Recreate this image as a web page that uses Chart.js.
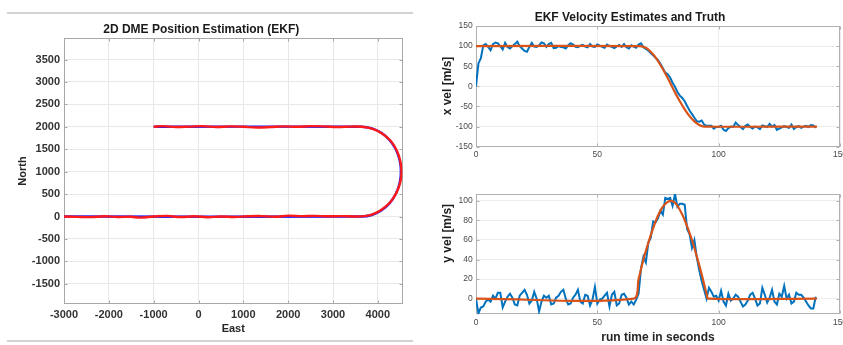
<!DOCTYPE html>
<html><head><meta charset="utf-8">
<script src="https://cdn.jsdelivr.net/npm/chart.js@4.4.1/dist/chart.umd.min.js"></script>
<style>
html,body{margin:0;padding:0;background:#fff;}
body{width:843px;height:345px;position:relative;overflow:hidden;}
.box{position:absolute;}
.rule{position:absolute;left:7px;width:406px;height:2px;background:#d2d2d2;}
</style></head><body>
<div class="rule" style="top:12px"></div>
<div class="rule" style="top:340px"></div>
<div class="box" style="left:0;top:0;width:420px;height:345px"><canvas id="c1" width="420" height="345"></canvas></div>
<div class="box" style="left:420px;top:0;width:423px;height:175px"><canvas id="c2" width="423" height="175"></canvas></div>
<div class="box" style="left:420px;top:175px;width:423px;height:170px"><canvas id="c3" width="423" height="170"></canvas></div>
<script>
// ---------- text ----------
const posTitle = '2D DME Position Estimation (EKF)';
const velTitle = 'EKF Velocity Estimates and Truth';
const eastLabel = 'East';
const northLabel = 'North';
const xVelLabel = 'x vel [m/s]';
const yVelLabel = 'y vel [m/s]';
const timeLabel = 'run time in seconds';

// ---------- position data ----------
const truthEast  = [-3000, 3640, 3866, 4078, 4259, 4398, 4485, 4515, 4485, 4398, 4259, 4078, 3866, 3640, -1000];
const truthNorth = [0, 0, 34, 134, 293, 500, 741, 1000, 1259, 1500, 1707, 1866, 1966, 2000, 2000];
const estEast  = [-3000,-2700,-2400,-2100,-1800,-1500,-1300,-1000,-700,-400,-100,200,500,800,1100,1400,1700,2000,2300,2600,2900,3200,3500,
                  3700,3880,4080,4270,4410,4500,4528,4498,4420,4285,4100,3885,3650,
                  3400,3100,2800,2500,2200,1900,1600,1300,1000,700,400,100,-200,-500,-800,-1000];
const estNorth = [0,-8,-12,5,-10,-5,-25,0,15,-12,5,-15,0,-10,5,10,-5,20,10,15,5,10,0,
                  8,48,152,312,522,762,1000,1248,1478,1688,1848,1952,2000,
                  2005,1995,2010,2015,2000,2010,1995,1985,2000,2010,1995,2015,2005,1995,2015,2000];
const eastTicks  = [-3000,-2000,-1000,0,1000,2000,3000,4000];
const northTicks = [-1500,-1000,-500,0,500,1000,1500,2000,2500,3000,3500];

// ---------- velocity data ----------
const timeSec = [0,1,2,3,4,5,6,7,8,9,10,11,12,13,14,15,16,17,18,19,20,21,22,23,24,25,26,27,28,29,30,31,32,33,34,35,36,37,38,39,40,
  41,42,43,44,45,46,47,48,49,50,51,52,53,54,55,56,57,58,59,60,61,62,63,64,65,66,67,68,69,70,71,72,73,74,75,76,77,78,79,80,
  81,82,83,84,85,86,87,88,89,90,91,92,93,94,95,96,97,98,99,100,101,102,103,104,105,106,107,108,109,110,111,112,113,114,115,116,117,118,119,120,
  121,122,123,124,125,126,127,128,129,130,131,132,133,134,135,136,137,138,139,140];
const xVelEst = [0,57,70,102,105,98,90,105,109,107,100,92,108,98,94,100,105,111,100,94,88,
  86,98,108,99,98,102,109,107,98,105,108,95,96,100,98,97,94,102,107,104,
  98,97,101,103,99,97,105,99,98,104,101,98,96,104,100,98,95,99,103,98,
  105,97,94,102,99,96,104,107,97,93,89,83,77,71,65,56,45,34,30,22,
  9,-1,-14,-23,-29,-37,-49,-60,-69,-78,-87,-88,-85,-95,-98,-98,-98,-105,-101,-101,
  -98,-108,-111,-104,-100,-101,-90,-96,-101,-106,-98,-95,-101,-105,-100,-102,-106,-97,-99,-101,
  -93,-100,-96,-108,-105,-102,-99,-101,-103,-95,-106,-101,-99,-103,-100,-98,-101,-96,-97,-103];
const xTruthTime = [0, 67.5, 70, 72, 74, 76, 78, 80, 82, 84, 86, 88, 90, 92, 94, 140.5];
const xVelTruth  = [100, 100, 96, 86, 72, 53, 32, 9, -15, -37, -57, -74, -87, -96, -100, -100];
const yVelEst = [0,-15,-9,-8,-3,-1,-3,3,0,6,6,-9,-3,2,5,1,-6,-7,3,6,9,
  4,-5,-2,7,0,-13,-3,3,1,3,-6,-5,1,3,7,9,0,-6,-5,1,
  4,9,-3,-5,4,3,-7,-1,12,-5,-1,0,3,6,-8,4,7,-7,-5,4,
  5,1,-6,-3,-6,-1,5,31,43,37,57,62,79,78,82,90,86,103,102,103,
  95,107,94,97,97,96,71,66,52,60,42,29,18,9,0,11,7,2,3,-2,
  8,-3,-7,5,-2,0,4,2,-3,-8,-6,-2,4,6,0,-7,-5,11,4,-4,
  1,9,-3,-6,5,2,13,0,4,-5,-3,6,4,4,1,-3,-7,-10,-10,2];
const yTruthTime = [0, 65, 67, 69, 71, 73, 75, 77, 79, 80.3, 81.5, 83, 85, 87, 89, 91, 93, 95, 95.8, 140.5];
const yVelTruth  = [0, 0, 20, 40, 57, 72, 85, 94, 99, 100, 99, 95, 86, 74, 60, 43, 25, 5, 0, 0];
const timeTicks = [0, 50, 100, 150];
const xVelTicks = [-150, -100, -50, 0, 50, 100, 150];
const yVelTicks = [0, 20, 40, 60, 80, 100];

// ---------- helpers ----------
const FONT = "'Liberation Sans', Arial, Helvetica, sans-serif";
const pairs = (xs, ys) => xs.map((x, i) => ({x: x, y: ys[i]}));
const setTicks = vals => scale => { scale.ticks = vals.map(v => ({value: v})); };

const boxPlugin = {
  id: 'matBox',
  beforeDatasetsDraw(chart, args, o) {
    const {ctx, chartArea: a, scales} = chart;
    ctx.save();
    ctx.strokeStyle = o.color;
    ctx.lineWidth = 1;
    const L = Math.round(a.left) + 0.5, R = Math.round(a.right) - 0.5, T = Math.round(a.top) + 0.5, B = Math.round(a.bottom) - 0.5;
    ctx.strokeRect(L, T, R - L, B - T);
    const tl = o.tick;
    ctx.beginPath();
    scales.x.ticks.forEach(t => {
      const p = Math.round(scales.x.getPixelForValue(t.value)) + 0.5;
      ctx.moveTo(p, B); ctx.lineTo(p, B - tl); ctx.moveTo(p, T); ctx.lineTo(p, T + tl);
    });
    scales.y.ticks.forEach(t => {
      const p = Math.round(scales.y.getPixelForValue(t.value)) + 0.5;
      ctx.moveTo(L, p); ctx.lineTo(L + tl, p); ctx.moveTo(R, p); ctx.lineTo(R - tl, p);
    });
    ctx.stroke();
    ctx.restore();
  }
};
const yLabelPlugin = {
  id: 'yLab',
  afterDraw(chart, args, o) {
    const ctx = chart.ctx;
    ctx.save();
    ctx.font = 'bold 12px ' + FONT;
    ctx.fillStyle = '#1e1e1e';
    ctx.textAlign = 'center';
    ctx.textBaseline = 'middle';
    ctx.translate(o.x, o.y);
    ctx.rotate(-Math.PI / 2);
    ctx.fillText(o.text, 0, 0);
    ctx.restore();
  }
};

Chart.defaults.font.family = FONT;
Chart.defaults.animation = false;

// ---------- left: position ----------
new Chart(document.getElementById('c1'), {
  type: 'line',
  data: {
    datasets: [
      {label: 'estimate', data: pairs(estEast, estNorth), borderColor: '#ff1a1a', borderWidth: 2.4, pointRadius: 0, tension: 0.35, fill: false},
      {label: 'truth', data: pairs(truthEast, truthNorth), borderColor: '#1a1aff', borderWidth: 2.4, pointRadius: 0, tension: 0.3, fill: false}
    ]
  },
  plugins: [boxPlugin],
  options: {
    responsive: false,
    layout: {padding: {left: 0, right: 17.5, top: 0, bottom: 0}},
    plugins: {
      legend: {display: false}, tooltip: {enabled: false},
      title: {display: true, text: posTitle, color: '#1a1a1a', font: {size: 12, weight: 'bold'}, padding: {top: 22.8, bottom: 0.8}},
      matBox: {color: '#a8a8a8', tick: 3}
    },
    scales: {
      x: {
        type: 'linear', min: -3000, max: 4550,
        afterBuildTicks: setTicks(eastTicks),
        afterFit: s => { s.height = 41; s.paddingLeft = 0; s.paddingRight = 0; },
        grid: {color: '#e8e8e8', drawTicks: false}, border: {display: false},
        ticks: {callback: v => String(v), color: '#333', font: {size: 11, weight: 'bold'}, padding: 4.4, maxRotation: 0, autoSkip: false},
        title: {display: true, text: eastLabel, color: '#262626', font: {size: 11, weight: 'bold'}, padding: {top: 0, bottom: 9.4}}
      },
      y: {
        type: 'linear', min: -1950, max: 3980,
        afterBuildTicks: setTicks(northTicks),
        afterFit: s => { s.width = 64; s.paddingTop = 0; s.paddingBottom = 0; },
        grid: {color: '#e8e8e8', drawTicks: false}, border: {display: false},
        ticks: {callback: v => String(v), color: '#333', font: {size: 11, weight: 'bold'}, padding: 4, autoSkip: false},
        title: {display: true, text: northLabel, color: '#262626', font: {size: 11, weight: 'bold'}, padding: {top: 16.4, bottom: 0}}
      }
    }
  }
});

// ---------- right: velocity charts ----------
function velScales(yMin, yMax, yTicks, xHeight, xTitle) {
  return {
    x: {
      type: 'linear', min: 0, max: 150,
      afterBuildTicks: setTicks(timeTicks),
      afterFit: s => { s.height = xHeight; s.paddingLeft = 0; s.paddingRight = 0; },
      grid: {color: '#ececec', drawTicks: false}, border: {display: false},
      ticks: {callback: v => String(v), color: '#4a4a4a', font: {size: 8.5}, padding: 3.2, maxRotation: 0, autoSkip: false},
      title: xTitle ? {display: true, text: xTitle, color: '#262626', font: {size: 12, weight: 'bold'}, padding: {top: 0, bottom: 0.5}} : {display: false}
    },
    y: {
      type: 'linear', min: yMin, max: yMax,
      afterBuildTicks: setTicks(yTicks),
      afterFit: s => { s.width = 56; s.paddingTop = 0; s.paddingBottom = 0; },
      grid: {color: '#ececec', drawTicks: false}, border: {display: false},
      ticks: {callback: v => String(v), color: '#4a4a4a', font: {size: 8.5}, padding: 3.3, autoSkip: false}
    }
  };
}

new Chart(document.getElementById('c2'), {
  type: 'line',
  data: {
    datasets: [
      {label: 'truth', data: pairs(xTruthTime, xVelTruth), borderColor: '#D95319', borderWidth: 2.2, pointRadius: 0, tension: 0.3, fill: false},
      {label: 'estimate', data: pairs(timeSec, xVelEst), borderColor: '#0072BD', borderWidth: 2, pointRadius: 0, tension: 0, fill: false}
    ]
  },
  plugins: [boxPlugin, yLabelPlugin],
  options: {
    responsive: false,
    layout: {padding: {left: 0, right: 3, top: 0, bottom: 0}},
    plugins: {
      legend: {display: false}, tooltip: {enabled: false},
      title: {display: true, text: velTitle, color: '#1a1a1a', font: {size: 12, weight: 'bold'}, padding: {top: 10.1, bottom: 1.5}},
      matBox: {color: '#b0b0b0', tick: 3},
      yLab: {text: xVelLabel, x: 28, y: 86}
    },
    scales: velScales(-150, 150, xVelTicks, 28.3, null)
  }
});

new Chart(document.getElementById('c3'), {
  type: 'line',
  data: {
    datasets: [
      {label: 'truth', data: pairs(yTruthTime, yVelTruth), borderColor: '#D95319', borderWidth: 2.2, pointRadius: 0, tension: 0.3, fill: false},
      {label: 'estimate', data: pairs(timeSec, yVelEst), borderColor: '#0072BD', borderWidth: 2, pointRadius: 0, tension: 0, fill: false}
    ]
  },
  plugins: [boxPlugin, yLabelPlugin],
  options: {
    responsive: false,
    layout: {padding: {left: 0, right: 3, top: 19, bottom: 0}},
    plugins: {
      legend: {display: false}, tooltip: {enabled: false},
      matBox: {color: '#b0b0b0', tick: 3},
      yLab: {text: yVelLabel, x: 28, y: 58.3}
    },
    scales: velScales(-16, 107, yVelTicks, 30.7, timeLabel)
  }
});
</script>
</body></html>
